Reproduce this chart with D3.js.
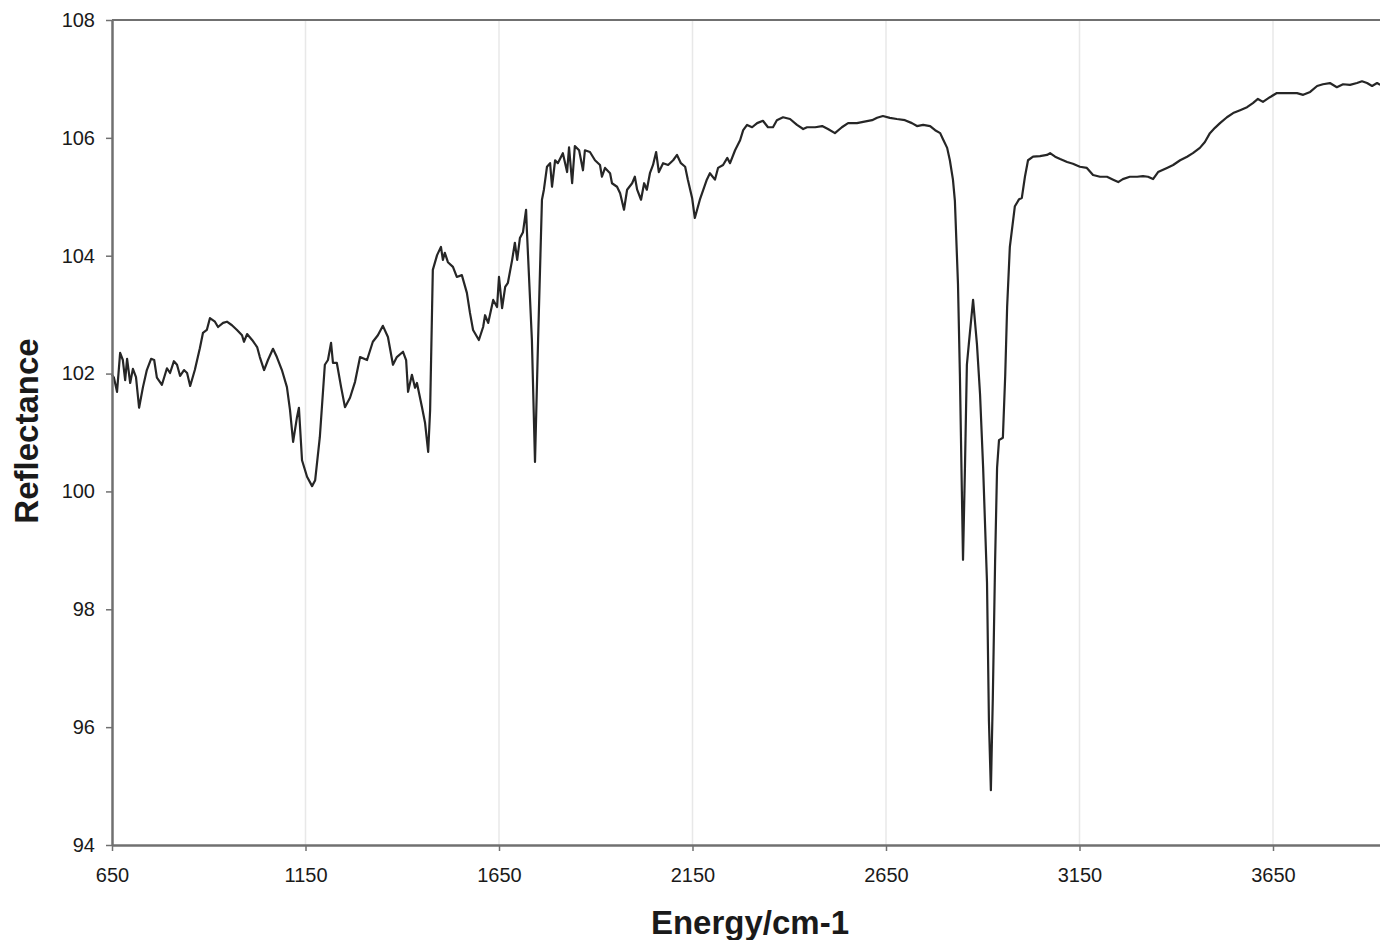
<!DOCTYPE html>
<html>
<head>
<meta charset="utf-8">
<script src="https://cdn.jsdelivr.net/npm/d3@7"></script>
<style>
  html, body { margin: 0; padding: 0; background: white; overflow: hidden; }
</style>
</head>
<body>
<div id="chart"></div>
<script>
// Data
const energy = [
  650, 655, 663, 671, 678, 684, 689, 697, 704, 712, 720, 730, 740, 751, 759, 766, 779, 792, 800, 810,
  818, 826, 836, 844, 852, 864, 877, 885, 895, 903, 916, 924, 937, 947, 960, 973, 986, 991, 999, 1012,
  1025, 1032, 1043, 1053, 1066, 1076, 1089, 1102, 1110, 1118, 1128, 1133, 1141, 1154, 1167, 1175, 1187, 1200, 1208, 1216,
  1221, 1231, 1242, 1252, 1265, 1278, 1291, 1309, 1324, 1337, 1350, 1363, 1376, 1386, 1402, 1410, 1415, 1425, 1433, 1438,
  1451, 1459, 1467, 1472, 1477, 1479, 1490, 1500, 1505, 1510, 1518, 1531, 1541, 1554, 1567, 1575, 1583, 1598, 1609, 1614,
  1622, 1635, 1645, 1650, 1658, 1666, 1673, 1684, 1691, 1697, 1704, 1712, 1720, 1722, 1735, 1743, 1751, 1761, 1766, 1774,
  1782, 1787, 1795, 1802, 1815, 1826, 1831, 1839, 1846, 1857, 1867, 1872, 1885, 1898, 1911, 1916, 1924, 1937, 1942, 1955,
  1963, 1973, 1981, 1994, 2001, 2007, 2017, 2025, 2032, 2040, 2048, 2056, 2063, 2074, 2087, 2100, 2110, 2120, 2131, 2138,
  2149, 2156, 2169, 2187, 2195, 2208, 2216, 2229, 2240, 2247, 2260, 2273, 2281, 2291, 2304, 2317, 2332, 2345, 2358, 2368,
  2384, 2402, 2420, 2436, 2446, 2467, 2485, 2500, 2518, 2536, 2552, 2575, 2591, 2614, 2627, 2642, 2660, 2678, 2699, 2717,
  2730, 2746, 2764, 2777, 2790, 2797, 2808, 2815, 2823, 2828, 2836, 2841, 2846, 2849, 2854, 2859, 2864, 2875, 2885, 2893,
  2901, 2911, 2916, 2921, 2926, 2932, 2937, 2942, 2952, 2958, 2963, 2970, 2983, 2994, 3001, 3009, 3017, 3030, 3048, 3066,
  3074, 3087, 3100, 3118, 3133, 3151, 3169, 3185, 3203, 3221, 3237, 3250, 3262, 3280, 3299, 3314, 3327, 3340, 3353, 3376,
  3392, 3410, 3428, 3443, 3461, 3474, 3487, 3500, 3513, 3531, 3547, 3565, 3583, 3598, 3611, 3624, 3642, 3660, 3676, 3694,
  3712, 3728, 3746, 3764, 3779, 3797, 3815, 3831, 3849, 3867, 3880, 3893, 3906, 3919, 3927
];
const reflectance = [
  101.98, 101.93, 101.69, 102.35, 102.23, 101.89, 102.25, 101.84, 102.08, 101.94, 101.42, 101.77, 102.06, 102.25, 102.23, 101.93, 101.81, 102.09, 102.01, 102.21,
  102.15, 101.96, 102.06, 102.01, 101.79, 102.06, 102.43, 102.69, 102.74, 102.94, 102.88, 102.79, 102.86, 102.88, 102.82, 102.74, 102.65, 102.54, 102.67, 102.57,
  102.45, 102.28, 102.06, 102.23, 102.42, 102.28, 102.06, 101.77, 101.38, 100.84, 101.26, 101.42, 100.53, 100.25, 100.09, 100.19, 100.92, 102.15, 102.23, 102.52,
  102.18, 102.18, 101.77, 101.43, 101.59, 101.86, 102.28, 102.23, 102.54, 102.65, 102.81, 102.62, 102.15, 102.28, 102.37, 102.23, 101.69, 101.98, 101.76, 101.84,
  101.43, 101.16, 100.67, 101.38, 103.08, 103.76, 104.01, 104.15, 103.93, 104.05, 103.89, 103.81, 103.64, 103.67, 103.37, 103.03, 102.74, 102.57, 102.79, 102.99,
  102.86, 103.25, 103.13, 103.64, 103.11, 103.47, 103.54, 103.93, 104.22, 103.93, 104.30, 104.40, 104.78, 104.44, 102.57, 100.50, 102.57, 104.95, 105.12, 105.51,
  105.57, 105.17, 105.62, 105.57, 105.74, 105.42, 105.84, 105.23, 105.86, 105.79, 105.45, 105.79, 105.76, 105.62, 105.54, 105.34, 105.49, 105.40, 105.23, 105.17,
  105.06, 104.78, 105.12, 105.23, 105.34, 105.12, 104.95, 105.23, 105.12, 105.40, 105.54, 105.76, 105.42, 105.57, 105.54, 105.62, 105.71, 105.57, 105.51, 105.29,
  104.98, 104.64, 104.95, 105.29, 105.40, 105.29, 105.49, 105.54, 105.66, 105.57, 105.79, 105.96, 106.13, 106.22, 106.18, 106.25, 106.29, 106.18, 106.18, 106.30,
  106.35, 106.32, 106.22, 106.15, 106.18, 106.18, 106.20, 106.15, 106.08, 106.18, 106.25, 106.25, 106.27, 106.30, 106.34, 106.37, 106.34, 106.32, 106.30, 106.25,
  106.20, 106.22, 106.20, 106.13, 106.08, 105.98, 105.83, 105.62, 105.29, 104.93, 103.52, 101.96, 100.01, 98.84, 100.40, 102.15, 102.50, 103.25, 102.50, 101.65,
  100.40, 98.45, 96.10, 94.93, 96.49, 98.84, 100.40, 100.87, 100.91, 101.96, 103.13, 104.15, 104.84, 104.96, 104.98, 105.34, 105.62, 105.68, 105.69, 105.71,
  105.74, 105.68, 105.64, 105.59, 105.56, 105.51, 105.49, 105.37, 105.34, 105.34, 105.29, 105.25, 105.30, 105.34, 105.34, 105.35, 105.34, 105.30, 105.42, 105.49,
  105.54, 105.62, 105.68, 105.74, 105.83, 105.93, 106.08, 106.17, 106.25, 106.35, 106.42, 106.47, 106.52, 106.59, 106.66, 106.61, 106.69, 106.76, 106.76, 106.76,
  106.76, 106.73, 106.78, 106.88, 106.91, 106.93, 106.86, 106.91, 106.90, 106.93, 106.96, 106.93, 106.88, 106.93, 106.90
];
const xTicks = [650, 1150, 1650, 2150, 2650, 3150, 3650];
const yTicks = [94, 96, 98, 100, 102, 104, 106, 108];

const config = {
  width       : 1380,
  height      : 940,
  left        : 112,
  top         : 20,
  bottom      : 845,
  xDomain     : [650, 4000],
  xPerUnit    : 1161 / 3000,
  yDomain     : [94, 108],
  axisColor   : "#707070",
  gridColor   : "#e8e8e8",
  lineColor   : "#262626",
  font        : "'Liberation Sans', Arial, Helvetica, sans-serif",
};

const points = energy.map((e, i) => ({ x: e, y: reflectance[i] }));

const svg = d3.select("#chart")
  .append("svg")
    .attr("width", config.width)
    .attr("height", config.height)
    .style("display", "block");

const x = d3.scaleLinear()
  .domain(config.xDomain)
  .range([config.left, config.left + (config.xDomain[1] - config.xDomain[0]) * config.xPerUnit]);

const y = d3.scaleLinear()
  .domain(config.yDomain)
  .range([config.bottom, config.top]);

// vertical gridlines
svg.append("g")
  .selectAll("line")
  .data(xTicks.slice(1))
  .enter()
    .append("line")
    .attr("x1", d => x(d))
    .attr("x2", d => x(d))
    .attr("y1", config.top)
    .attr("y2", config.bottom)
    .style("stroke", config.gridColor)
    .style("stroke-width", "1.5px");

// top border at 108
svg.append("line")
  .attr("x1", config.left)
  .attr("x2", config.width)
  .attr("y1", y(108))
  .attr("y2", y(108))
  .style("stroke", config.axisColor)
  .style("stroke-width", "2px");

// spectrum
const line = d3.line()
  .x(d => x(d.x))
  .y(d => y(d.y));

svg.append("path")
  .datum(points)
  .attr("d", line)
  .style("fill", "none")
  .style("stroke", config.lineColor)
  .style("stroke-width", "2.2px")
  .style("stroke-linejoin", "round");

// axes
const xAxis = svg.append("g")
  .attr("transform", "translate(0," + config.bottom + ")")
  .call(d3.axisBottom(x).tickValues(xTicks).tickSize(6).tickSizeOuter(0).tickFormat(d3.format("d")));

const yAxis = svg.append("g")
  .attr("transform", "translate(" + config.left + ",0)")
  .call(d3.axisLeft(y).tickValues(yTicks).tickSize(6).tickSizeOuter(0).tickFormat(d3.format("d")));

[xAxis, yAxis].forEach(function (g) {
  g.select(".domain").style("stroke", config.axisColor).style("stroke-width", "2.5px");
  g.selectAll(".tick line").style("stroke", config.axisColor).style("stroke-width", "1.5px");
  g.selectAll(".tick text")
    .style("font-family", config.font)
    .style("font-size", "20px")
    .style("fill", "#1a1a1a");
});
xAxis.selectAll(".tick text").attr("y", 23);
yAxis.selectAll(".tick text").attr("x", -17);

// axis titles
svg.append("text")
  .attr("transform", "translate(38," + 431 + ") rotate(-90)")
  .attr("text-anchor", "middle")
  .style("font-family", config.font)
  .style("font-weight", "bold")
  .style("font-size", "33px")
  .style("fill", "#1a1a1a")
  .text("Reflectance");

svg.append("text")
  .attr("x", 750)
  .attr("y", 934)
  .attr("text-anchor", "middle")
  .style("font-family", config.font)
  .style("font-weight", "bold")
  .style("font-size", "33px")
  .style("fill", "#1a1a1a")
  .text("Energy/cm-1");
</script>
</body>
</html>
